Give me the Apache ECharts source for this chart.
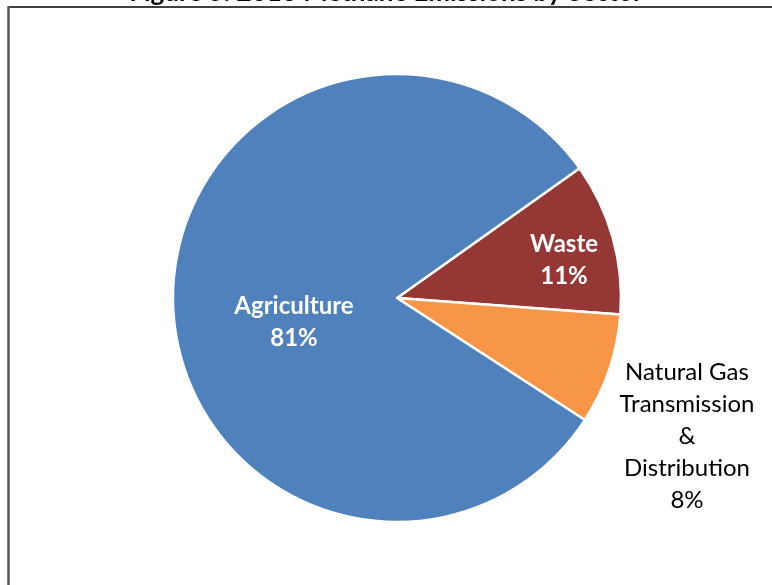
<!DOCTYPE html>
<html><head><meta charset="utf-8">
<script src="https://cdn.jsdelivr.net/npm/echarts@6/dist/echarts.min.js"></script>
<style>html,body{margin:0;padding:0;background:#fff}#c{width:772px;height:585px}</style>
</head><body><div id="c"></div>
<script>
const categories = ['Waste', 'Natural Gas\nTransmission\n&\nDistribution', 'Agriculture'];
const values = [11, 8, 81];
const colors = ['#953735', '#F79646', '#4F81BD'];
const titleText = 'Figure 5: 2010 Methane Emissions by Sector';

const chart = echarts.init(document.getElementById('c'));
const labelPos = [[564, 260], [687, 436], [294, 322]];
const labelColor = ['#fff', '#000', '#fff'];
const labelWeight = ['bold', 'normal', 'bold'];
chart.setOption({
  animation: false,
  title: {
    text: titleText, left: 'center', top: -25,
    textStyle: {fontFamily: 'Lato', fontWeight: 'bold', fontSize: 26, color: '#000'}
  },
  graphic: [
    {type: 'line', shape: {x1: 9, y1: 7, x2: 772, y2: 7}, style: {stroke: '#000', lineWidth: 1.5}, z: 10},
    {type: 'line', shape: {x1: 8.5, y1: 6, x2: 8.5, y2: 585}, style: {stroke: '#595959', lineWidth: 2.5}, z: 10}
  ],
  series: [{
    type: 'pie',
    center: [397, 298],
    radius: 224,
    startAngle: 35.4,
    clockwise: true,
    data: categories.map((c, i) => ({
      name: c, value: values[i], itemStyle: {color: colors[i]},
      label: {color: labelColor[i], fontWeight: labelWeight[i]}
    })),
    itemStyle: {borderColor: '#fff', borderWidth: 2.5},
    label: {
      show: true, position: 'inside',
      formatter: p => p.name + '\n' + Math.round(p.percent) + '%',
      fontFamily: 'Lato', fontSize: 24, lineHeight: 32, align: 'center', verticalAlign: 'middle'
    },
    labelLine: {show: false},
    emphasis: {disabled: true},
    labelLayout: p => ({x: labelPos[p.dataIndex][0], y: labelPos[p.dataIndex][1], align: 'center', verticalAlign: 'middle'}),
  }]
});
</script></body></html>
